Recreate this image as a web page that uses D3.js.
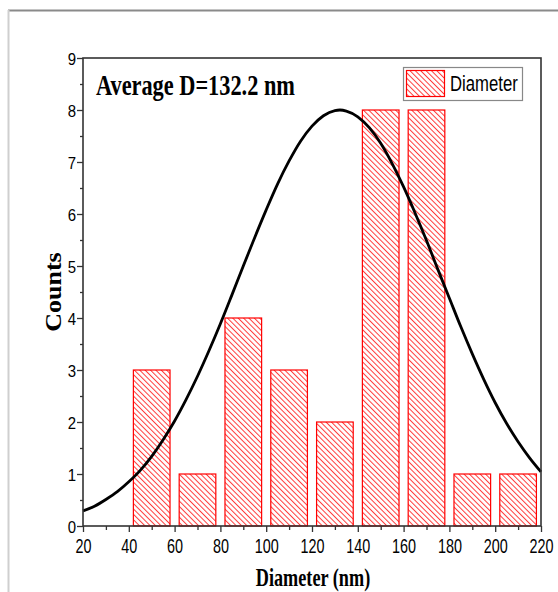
<!DOCTYPE html>
<html><head><meta charset="utf-8">
<script src="https://cdn.jsdelivr.net/npm/d3@7"></script>
<style>
html,body{margin:0;padding:0;background:#fff;}
svg{display:block;}
</style></head>
<body>
<svg id="chart" width="558" height="592"></svg>
<script>
// ---- data ----
const binCenters = [50, 70, 90, 110, 130, 150, 170, 190, 210];
const counts = [3, 1, 4, 3, 2, 8, 8, 1, 1];
const barWidth = 16; // in nm units
const fitX = [20, 25, 30, 35, 40, 45, 50, 55, 60, 65, 70, 75, 80, 85, 90, 95, 100, 105, 110, 115, 120, 125, 130, 132.2, 135, 140, 145, 150, 155, 160, 165, 170, 175, 180, 185, 190, 195, 200, 205, 210, 215, 220];
const fitY = [0.29, 0.38, 0.51, 0.66, 0.85, 1.07, 1.34, 1.66, 2.02, 2.43, 2.88, 3.37, 3.89, 4.44, 5.00, 5.55, 6.08, 6.58, 7.02, 7.40, 7.69, 7.89, 7.99, 8.00, 7.98, 7.87, 7.66, 7.36, 6.97, 6.52, 6.02, 5.49, 4.93, 4.38, 3.83, 3.31, 2.82, 2.37, 1.97, 1.62, 1.31, 1.04];
const xTicks = [20, 40, 60, 80, 100, 120, 140, 160, 180, 200, 220];
const yTicks = [0, 1, 2, 3, 4, 5, 6, 7, 8, 9];
const title = "Average D=132.2 nm";
const legendLabel = "Diameter";
const xLabel = "Diameter (nm)";
const yLabel = "Counts";

const svg = d3.select("#chart");
const L = 83, R = 541, T = 58, B = 526;
const x = d3.scaleLinear().domain([20, 220]).range([L, R]);
const y = d3.scaleLinear().domain([0, 9]).range([B, T]);

// outer border
svg.append("line").attr("x1", 8).attr("x2", 558).attr("y1", 10.5).attr("y2", 10.5)
  .attr("stroke", "#8a8a8a").attr("stroke-width", 2);
svg.append("line").attr("x1", 8.5).attr("x2", 8.5).attr("y1", 10).attr("y2", 592)
  .attr("stroke", "#cfcfcf").attr("stroke-width", 2);

// hatch pattern
const defs = svg.append("defs");
const pat = defs.append("pattern").attr("id", "hatch").attr("patternUnits", "userSpaceOnUse")
  .attr("width", 3.8).attr("height", 3.8).attr("patternTransform", "rotate(-45)");
pat.append("rect").attr("width", 3.8).attr("height", 3.8).attr("fill", "#fff");
pat.append("line").attr("x1", 0.5).attr("x2", 0.5).attr("y1", 0).attr("y2", 3.8)
  .attr("stroke", "#ff3b3b").attr("stroke-width", 1);

// bars
svg.append("g").selectAll("rect").data(binCenters).join("rect")
  .attr("x", (d) => x(d - barWidth / 2))
  .attr("width", (d) => x(d + barWidth / 2) - x(d - barWidth / 2))
  .attr("y", (d, i) => y(counts[i]))
  .attr("height", (d, i) => y(0) - y(counts[i]))
  .attr("fill", "url(#hatch)")
  .attr("stroke", "#ff0000").attr("stroke-width", 1.2);

// fit curve
const line = d3.line().x((d) => x(d[0])).y((d) => y(d[1])).curve(d3.curveMonotoneX);
svg.append("path").datum(fitX.map((v, i) => [v, fitY[i]]))
  .attr("d", line).attr("fill", "none").attr("stroke", "#000").attr("stroke-width", 2.8);

// axes
const xMinor = d3.range(30, 220, 20);
const yMinor = d3.range(0.5, 9, 1);
const gxm = svg.append("g").attr("transform", `translate(0,${B})`)
  .call(d3.axisBottom(x).tickValues(xMinor).tickSize(4).tickFormat(""));
const gx = svg.append("g").attr("transform", `translate(0,${B})`)
  .call(d3.axisBottom(x).tickValues(xTicks).tickSize(6).tickPadding(4).tickFormat(d3.format("d")));
const gym = svg.append("g").attr("transform", `translate(${L},0)`)
  .call(d3.axisLeft(y).tickValues(yMinor).tickSize(3).tickFormat(""));
const gy = svg.append("g").attr("transform", `translate(${L},0)`)
  .call(d3.axisLeft(y).tickValues(yTicks).tickSize(6).tickPadding(3).tickFormat(d3.format("d")));
[gxm, gx, gym, gy].forEach((g) => {
  g.selectAll("path.domain").remove();
  g.selectAll("line").attr("stroke", "#333").attr("stroke-width", 1.3);
});
gx.selectAll("text").attr("font-family", "Arial, 'Liberation Sans', sans-serif")
  .attr("font-size", 20).attr("fill", "#000").attr("transform", "scale(0.72,1)")
  .attr("dy", "0.72em").attr("y", 13);
gy.selectAll("text").attr("font-family", "Arial, 'Liberation Sans', sans-serif")
  .attr("font-size", 17).attr("fill", "#000").attr("x", -8).attr("transform", "scale(0.88,1)")
  .attr("dy", "0.36em");

// frame
svg.append("rect").attr("x", L).attr("y", T).attr("width", R - L).attr("height", B - T)
  .attr("fill", "none").attr("stroke", "#333").attr("stroke-width", 1.6);

// title text
svg.append("text").attr("transform", "translate(96,95) scale(0.77,1)")
  .attr("font-family", "'Liberation Serif', 'Times New Roman', serif").attr("font-weight", "bold")
  .attr("font-size", 29).attr("fill", "#000").text(title);

// legend
const lg = svg.append("g");
lg.append("rect").attr("x", 403.5).attr("y", 67.5).attr("width", 119).attr("height", 33)
  .attr("fill", "#fff").attr("stroke", "#888").attr("stroke-width", 1.2);
lg.append("rect").attr("x", 406.5).attr("y", 70.5).attr("width", 38).attr("height", 26)
  .attr("fill", "url(#hatch)").attr("stroke", "#ff0000").attr("stroke-width", 1.2);
lg.append("text").attr("transform", "translate(450,91) scale(0.76,1)")
  .attr("font-family", "Arial, 'Liberation Sans', sans-serif").attr("font-size", 22)
  .attr("fill", "#000").text(legendLabel);

// axis titles
svg.append("text").attr("transform", "translate(313,586) scale(0.7,1)")
  .attr("text-anchor", "middle")
  .attr("font-family", "'Liberation Serif', 'Times New Roman', serif").attr("font-weight", "bold")
  .attr("font-size", 26).attr("fill", "#000").text(xLabel);
svg.append("text").attr("transform", "translate(61,292) scale(0.87,1) rotate(-90)")
  .attr("text-anchor", "middle")
  .attr("font-family", "'Liberation Serif', 'Times New Roman', serif").attr("font-weight", "bold")
  .attr("font-size", 26).attr("fill", "#000").text(yLabel);
</script>
</body></html>
